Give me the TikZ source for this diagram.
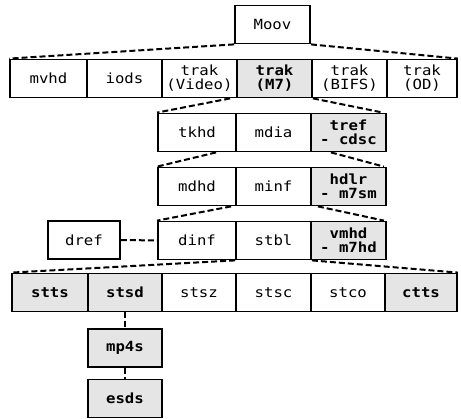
\documentclass[tikz,border=0pt]{standalone}
\usepackage{fontspec}
\usepackage{tikz}
\newfontfamily\boxfont[FakeStretch=1.12]{DejaVu Sans Mono}

\begin{document}
\begin{tikzpicture}[x=1pt,y=-1pt,
    box/.style={draw, line width=1.8pt, minimum width=75pt, minimum height=38pt,
                inner sep=0pt, align=center, font=\fontsize{14}{14}\boxfont},
    shaded/.style={box, fill=gray!20, font=\fontsize{14}{14}\boxfont\bfseries},
    link/.style={line width=2pt, dash pattern=on 6pt off 3pt}]
    \useasboundingbox (0,0) rectangle (461,419);

    \node[box] (moov) at (272.5,24.5) {Moov};

    \node[box, minimum width=77pt] (mvhd) at (48.5,78.5) {mvhd};
    \node[box] (iods) at (124.5,78.5) {iods};
    \node[box] (trakV) at (199.5,78.5) {trak\\(Video)};
    \node[shaded] (trakM) at (274.5,78.5) {trak\\(M7)};
    \node[box] (trakB) at (349.5,78.5) {trak\\(BIFS)};
    \node[box, minimum width=70pt] (trakO) at (422,78.5) {trak\\(OD)};

    \node[box, minimum width=78pt] (tkhd) at (197,132.5) {tkhd};
    \node[box] (mdia) at (273.5,132.5) {mdia};
    \node[shaded] (tref) at (348.5,132.5) {tref\\- cdsc};

    \node[box, minimum width=78pt] (mdhd) at (197,186.5) {mdhd};
    \node[box] (minf) at (273.5,186.5) {minf};
    \node[shaded] (hdlr) at (348.5,186.5) {hdlr\\- m7sm};

    \node[box, minimum width=72pt] (dref) at (84,240) {dref};
    \node[box, minimum width=78pt] (dinf) at (197,240.5) {dinf};
    \node[box] (stbl) at (273.5,240.5) {stbl};
    \node[shaded] (vmhd) at (348.5,240.5) {vmhd\\- m7hd};

    \node[shaded, minimum width=76pt] (stts) at (50,292.5) {stts};
    \node[shaded, minimum width=74pt] (stsd) at (125,292.5) {stsd};
    \node[box, minimum width=74pt] (stsz) at (199,292.5) {stsz};
    \node[box] (stsc) at (273.5,292.5) {stsc};
    \node[box, minimum width=74pt] (stco) at (348,292.5) {stco};
    \node[shaded, minimum width=72pt] (ctts) at (421,292.5) {ctts};

    \node[shaded, minimum width=74pt] (mp4s) at (125,348) {mp4s};
    \node[shaded, minimum width=74pt] (esds) at (125,398.5) {esds};

    \draw[link] (moov.south west) -- (mvhd.north west);
    \draw[link] (moov.south east) -- (trakO.north east);
    \draw[link] ([xshift=-6pt]trakM.south west) -- (tkhd.north west);
    \draw[link] (trakM.south east) -- ([xshift=-4pt]tref.north east);
    \draw[link] ([xshift=-19pt]mdia.south west) -- (mdhd.north west);
    \draw[link] ([xshift=19pt]mdia.south east) -- ([xshift=-3pt]hdlr.north east);
    \draw[link] ([xshift=-4pt]minf.south west) -- (dinf.north west);
    \draw[link] ([xshift=6pt]minf.south east) -- ([xshift=-3pt]vmhd.north east);
    \draw[link] (dref) -- (dinf);
    \draw[link] (stbl.south west) -- (stts.north west);
    \draw[link] (stbl.south east) -- (ctts.north east);
    \draw[link] (stsd) -- (mp4s);
    \draw[link] (mp4s) -- (esds);
\end{tikzpicture}
\end{document}
